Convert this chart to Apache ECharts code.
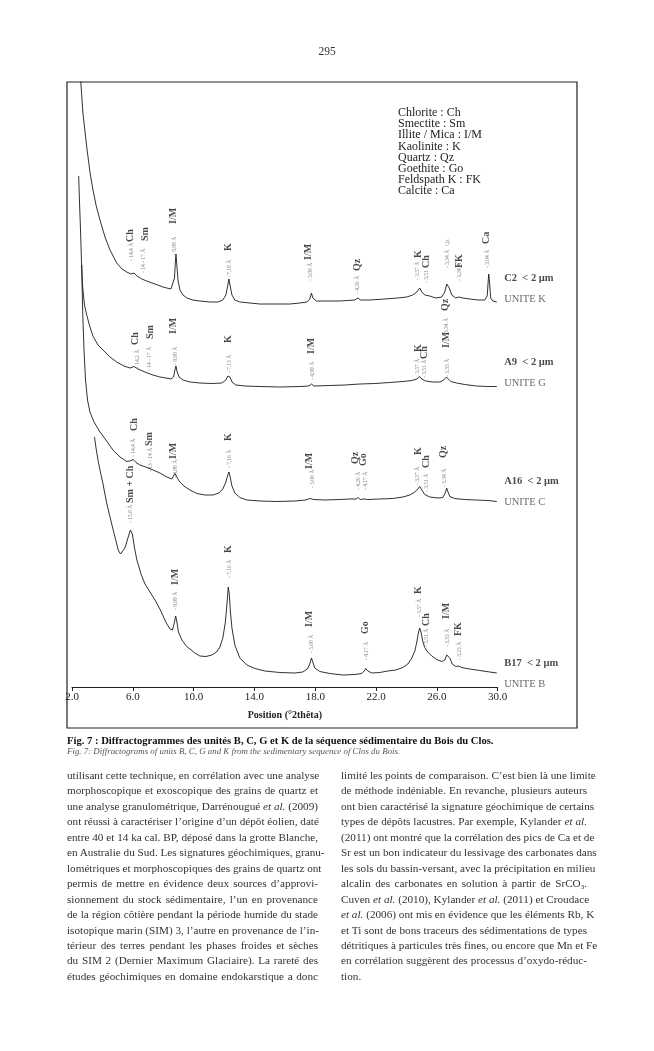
<!DOCTYPE html>
<html><head><meta charset="utf-8">
<script src="https://cdn.jsdelivr.net/npm/echarts@6/dist/echarts.min.js"></script>
<style>
html,body{margin:0;padding:0;background:#fff;}
#page{position:relative;width:654px;height:1051px;overflow:hidden;}
#chart{position:absolute;left:0;top:0;width:654px;height:1051px;}
.t{position:absolute;font-family:"Liberation Serif","DejaVu Serif",serif;color:#2a2a2a;line-height:1;}
.col{position:absolute;font-family:"Liberation Serif",serif;font-size:11.2px;line-height:15.46px;color:#333;}
.col div{text-align:justify;text-align-last:justify;white-space:nowrap;height:15.46px;}
.col div.last{text-align-last:left;}
.col sub{font-size:7px;line-height:0;vertical-align:-2px;}
</style></head>
<body><div id="page">
<div id="chart"></div>
<div class="t" style="left:0;width:654px;top:46px;text-align:center;font-size:11.5px;color:#333;">295</div>
<div class="t" style="left:67px;top:736px;font-size:10.6px;font-weight:bold;color:#111;white-space:nowrap;">Fig. 7 : Diffractogrammes des unités B, C, G et K de la séquence sédimentaire du Bois du Clos.</div>
<div class="t" style="left:67px;top:746.5px;font-size:8.9px;font-style:italic;color:#555;white-space:nowrap;">Fig. 7: Diffractograms of units B, C, G and K from the sedimentary sequence of Clos du Bois.</div>
<div class="col" style="left:67px;top:768px;width:251px;">
<div>utilisant cette technique, en corrélation avec une analyse</div>
<div>morphoscopique et exoscopique des grains de quartz et</div>
<div>une analyse granulométrique, Darrénougué <i>et al.</i> (2009)</div>
<div>ont réussi à caractériser l’origine d’un dépôt éolien, daté</div>
<div>entre 40 et 14 ka cal. BP, déposé dans la grotte Blanche,</div>
<div>en Australie du Sud. Les signatures géochimiques, granu-</div>
<div>lométriques et morphoscopiques des grains de quartz ont</div>
<div>permis de mettre en évidence deux sources d’approvi-</div>
<div>sionnement du stock sédimentaire, l’un en provenance</div>
<div>de la région côtière pendant la période humide du stade</div>
<div>isotopique marin (SIM) 3, l’autre en provenance de l’in-</div>
<div>térieur des terres pendant les phases froides et sèches</div>
<div>du SIM 2 (Dernier Maximum Glaciaire). La rareté des</div>
<div>études géochimiques en domaine endokarstique a donc</div>
</div>
<div class="col" style="left:341px;top:768px;width:246px;">
<div>limité les points de comparaison. C’est bien là une limite</div>
<div>de méthode indéniable. En revanche, plusieurs auteurs</div>
<div>ont bien caractérisé la signature géochimique de certains</div>
<div>types de dépôts lacustres. Par exemple, Kylander <i>et al.</i></div>
<div>(2011) ont montré que la corrélation des pics de Ca et de</div>
<div>Sr est un bon indicateur du lessivage des carbonates dans</div>
<div>les sols du bassin-versant, avec la précipitation en milieu</div>
<div>alcalin des carbonates en solution à partir de SrCO<sub>3</sub>.</div>
<div>Cuven <i>et al.</i> (2010), Kylander <i>et al.</i> (2011) et Croudace</div>
<div><i>et al.</i> (2006) ont mis en évidence que les éléments Rb, K</div>
<div>et Ti sont de bons traceurs des sédimentations de types</div>
<div>détritiques à particules très fines, ou encore que Mn et Fe</div>
<div>en corrélation suggèrent des processus d’oxydo-réduc-</div>
<div class="last">tion.</div>
</div>
</div>
<script>
// ---- data: [2theta (deg), intensity (a.u., stacked offset)] ----
const c2Scan = [
[2.53,617],[2.57,607],[2.72,574],[2.97,540],[3.18,515],[3.38,497],[3.58,482],[3.84,467],[4.17,450],[4.50,437],
[4.94,424],[5.29,418],[5.60,415],[5.88,413],[6.08,414],[6.27,411],[6.60,408],[6.91,406],[7.26,404],[7.65,402],
[7.98,400],[8.24,399],[8.51,398],[8.64,400],[8.74,409],[8.80,425],[8.84,433],[8.88,425],[8.97,407],[9.10,397],
[9.30,392],[9.56,389],[9.95,387],[10.41,386],[11.07,385],[11.60,385],[11.92,387],[12.12,392],[12.25,402],[12.32,408],
[12.39,402],[12.52,392],[12.71,387],[13.04,385],[13.70,384],[14.36,383],[15.34,383],[16.33,383],[16.99,384],[17.45,385],
[17.64,388],[17.75,394],[17.84,389],[18.08,386],[18.63,386],[19.62,386],[20.60,387],[20.80,389],[20.99,387],[21.59,387],
[22.57,388],[23.43,389],[24.02,390],[24.41,392],[24.68,395],[24.87,399],[25.01,395],[25.20,392],[25.33,392],[25.53,391],
[25.93,389],[26.32,390],[26.52,395],[26.65,403],[26.71,404],[26.81,399],[26.98,392],[27.24,389],[27.43,390],[27.53,391],
[27.70,389],[28.16,388],[28.69,387],[29.15,387],[29.31,391],[29.38,407],[29.41,413],[29.46,405],[29.54,389],[29.68,386],
[29.94,385]
];
const a9Scan = [
[2.44,511],[2.49,487],[2.56,457],[2.62,427],[2.69,402],[2.82,382],[2.97,372],[3.18,360],[3.38,351],[3.71,342],
[4.04,337],[4.50,330],[4.94,325],[5.42,321],[5.81,319],[6.08,320.5],[6.34,318],[6.80,315],[7.32,312],[7.78,310],
[8.18,309],[8.51,308],[8.68,310],[8.77,317],[8.84,321],[8.90,316],[9.04,310],[9.30,307],[9.76,305],[10.41,304],
[11.20,303.5],[11.86,304],[12.12,307],[12.25,311],[12.32,313],[12.39,310],[12.52,305],[12.78,302],[13.37,301],[14.36,300.5],
[15.67,300],[16.99,300.5],[17.58,301],[17.75,303],[17.91,301],[18.96,301.5],[19.94,302],[20.93,303],[21.92,303.5],[22.90,304.5],
[23.76,305.5],[24.35,306.5],[24.68,308],[24.87,310.5],[25.01,308],[25.27,306],[25.73,305],[26.19,305],[26.45,307],[26.63,310],
[26.71,309],[26.91,305.5],[27.30,304],[27.83,302.5],[28.60,301],[29.35,300.5],[29.94,300.5]
];
const a16Scan = [
[2.64,422],[2.67,397],[2.72,367],[2.79,337],[2.89,307],[3.02,287],[3.18,275],[3.45,265],[3.84,255],[4.28,246],
[4.69,237],[5.16,230],[5.60,225.5],[5.81,226],[6.03,227.5],[6.21,224.5],[6.47,222],[6.93,219.5],[7.34,217],[7.78,214],
[8.24,210],[8.57,208],[8.77,213.5],[8.87,212],[9.04,206],[9.36,201],[9.76,197],[10.22,193.5],[10.74,192],[11.27,192],
[11.66,194],[11.92,198],[12.12,205],[12.25,212],[12.32,215],[12.39,211],[12.52,201],[12.71,194],[13.04,189.5],[13.50,187],
[14.36,186],[15.47,185.5],[16.66,186],[17.38,187],[17.64,188.5],[17.75,189.5],[17.91,187.5],[18.63,187],[19.62,187.5],[20.27,188],
[20.67,188],[20.82,189.5],[20.96,187.5],[21.19,188],[21.32,189],[21.45,187.5],[22.24,188],[23.10,188.5],[23.76,190],[24.22,192],
[24.55,195],[24.74,198],[24.87,200.5],[25.01,197],[25.20,192.5],[25.53,190],[26.06,189],[26.39,189.5],[26.55,194],[26.64,199],
[26.71,196],[26.85,190.5],[27.17,188.5],[27.83,187.5],[28.60,187],[29.35,186.5],[29.94,185.5]
];
const b17Scan = [
[3.48,250],[3.58,239],[3.71,227],[3.84,217],[4.04,203],[4.28,184],[4.50,170],[4.71,157],[4.89,146],[5.04,137],
[5.19,133],[5.32,135],[5.48,139],[5.68,149],[5.84,157],[5.97,153],[6.11,139],[6.27,127],[6.54,113],[6.80,103],
[7.13,95],[7.46,87],[7.78,78],[8.05,69],[8.24,63],[8.45,58],[8.61,57],[8.74,65],[8.82,71],[8.90,65],
[9.00,55],[9.23,47],[9.54,40.5],[9.76,38],[10.08,34],[10.41,31],[10.81,30.5],[11.20,32],[11.51,35],[11.73,40],
[11.92,49],[12.09,65],[12.19,83],[12.28,100],[12.35,92],[12.42,75],[12.52,59],[12.71,42],[13.04,29],[13.50,22],
[14.03,18.5],[14.69,16],[15.67,14.5],[16.66,14],[17.18,15],[17.48,18],[17.64,23],[17.75,29],[17.84,25],[17.97,19],
[18.30,15.5],[18.96,13.5],[19.81,12],[20.60,12.5],[21.06,13.5],[21.22,16],[21.32,18.5],[21.45,16],[21.72,14],[22.24,14.5],
[22.77,16],[23.30,17],[23.76,19.5],[24.09,23],[24.35,29],[24.55,36],[24.68,45],[24.78,54],[24.87,59],[24.97,54],
[25.07,46],[25.20,39.5],[25.40,35],[25.66,31],[25.99,27.5],[26.32,25.5],[26.52,27],[26.65,32],[26.73,34],[26.85,29],
[27.01,23],[27.24,20.5],[27.40,21],[27.50,22],[27.63,19.5],[28.16,18],[28.82,16.5],[29.48,15],[29.94,14]
];
// mineral peak labels [2theta, label base, text]
const mineralLabels = [
[5.81,445,'Ch'],[6.86,446,'Sm'],[8.66,463,'I/M'],[12.27,436,'K'],[17.58,427,'I/M'],[20.78,416,'Qz'],
[24.76,429,'K'],[25.31,419,'Ch'],[27.50,419,'FK'],[29.26,443,'Ca'],[26.58,376,'Qz'],
[6.14,342,'Ch'],[7.13,348,'Sm'],[8.66,353,'I/M'],[12.32,344,'K'],[17.75,333,'I/M'],[24.76,335,'K'],[25.20,328,'Ch'],[26.63,339,'I/M'],
[6.08,256,'Ch'],[7.08,241,'Sm'],[8.66,228,'I/M'],[12.27,246,'K'],[17.64,218,'I/M'],[20.67,223,'Qz'],[21.15,221,'Go'],
[24.76,232,'K'],[25.31,219,'Ch'],[26.45,229,'Qz'],
[5.86,184,'Sm + Ch'],[8.79,102,'I/M'],[12.32,134,'K'],[17.64,60,'I/M'],[21.32,53,'Go'],[24.76,93,'K'],[25.31,61,'Ch'],
[26.63,68,'I/M'],[27.39,51,'FK']
];
// d-spacing labels [2theta, label base, text]
const spacingLabels = [
[5.94,426,'- 14,4 Å'],[6.69,414,'- 14 - 17 Å'],[8.77,432,'- 9,99 Å'],[12.34,409,'- 7,18 Å'],[17.71,406,'- 5,00 Å'],
[20.80,393,'- 4,26 Å'],[24.74,407,'- 3,57 Å'],[25.33,404,'- 3,51 Å'],[26.71,419,'- 3,34 Å   Qz'],[27.50,406,'- 3,24 Å'],[29.35,419,'- 3,04 Å'],
[6.29,319,'- 14,2 Å'],[7.13,316,'- 14 - 17 Å'],[8.82,322,'- 9,99 Å'],[12.39,314,'- 7,13 Å'],[17.79,307,'- 4,99 Å'],
[24.76,310,'- 3,57 Å'],[25.20,309,'- 3,51 Å'],[26.73,310,'- 3,33 Å'],[26.65,354,'3,34 Å'],
[6.08,230,'- 14,4 Å'],[7.17,215,'- 13 - 14 Å'],[8.82,209,'- 9,98 Å'],[12.34,219,'- 7,16 Å'],[17.79,199,'- 5,00 Å'],
[20.86,197,'- 4,26 Å'],[21.30,197,'- 4,17 Å'],[24.76,202,'- 3,57 Å'],[25.31,195,'- 3,51 Å'],[26.52,200,'- 3,34 Å'],
[5.86,164,'- 15,0 Å'],[8.82,77,'- 9,99 Å'],[12.34,109,'- 7,16 Å'],[17.75,34,'- 5,00 Å'],[21.37,27,'- 4,17 Å'],
[24.83,70,'- 3,57 Å'],[25.31,40,'- 3,51 Å'],[26.73,40,'- 3,33 Å'],[27.46,27,'- 3,23 Å']
];
// sample labels [2theta, label centre, sample, unit]
const sampleLabels = [
[30,398,'C2','UNITE K'],[30,314,'A9','UNITE G'],[30,195,'A16','UNITE C'],[30,13,'B17','UNITE B']
];
const legendLines = ['Chlorite : Ch','Smectite : Sm','Illite / Mica : I/M','Kaolinite : K','Quartz : Qz','Goethite : Go','Feldspath K : FK','Calcite : Ca'];
const xAxisName = 'Position (°2thêta)';

const serif = '"Liberation Serif", "DejaVu Serif", serif';
const chart = echarts.init(document.getElementById('chart'), null, {renderer:'canvas'});
function scan(name, data){
  return {name, type:'line', data, symbol:'none', showSymbol:false, smooth:false, clip:true,
    lineStyle:{color:'#1a1a1a', width:0.9}, silent:true, animation:false, z:3};
}
chart.setOption({
  animation:false,
  backgroundColor:'transparent',
  grid:{left:72, right:156.3, top:82, bottom:364, containLabel:false},
  xAxis:{type:'value', min:2, max:30, interval:4,
    name:xAxisName, nameLocation:'middle', nameGap:23,
    nameTextStyle:{fontFamily:serif, fontWeight:'bold', fontSize:10, color:'#222'},
    axisLine:{show:true, lineStyle:{color:'#222', width:1}},
    axisTick:{show:true, length:4, lineStyle:{color:'#222'}},
    axisLabel:{fontFamily:serif, fontSize:11, color:'#222', margin:5, formatter:v=>v.toFixed(1)},
    splitLine:{show:false}},
  yAxis:{type:'value', min:0, max:605, show:false},
  series:[
    scan('C2', c2Scan), scan('A9', a9Scan), scan('A16', a16Scan), scan('B17', b17Scan),
    {type:'scatter', data:mineralLabels, symbolSize:1, itemStyle:{color:'rgba(0,0,0,0)'}, silent:true, clip:false, z:5,
      label:{show:true, position:'inside', rotate:90, align:'left', verticalAlign:'middle',
        fontFamily:serif, fontWeight:'bold', fontSize:10, color:'#1a1a1a', formatter:p=>p.data[2]}},
    {type:'scatter', data:spacingLabels, symbolSize:1, itemStyle:{color:'rgba(0,0,0,0)'}, silent:true, clip:false, z:5,
      label:{show:true, position:'inside', rotate:90, align:'left', verticalAlign:'middle',
        fontFamily:serif, fontSize:5.5, color:'#666', formatter:p=>p.data[2]}},
    {type:'scatter', data:sampleLabels, symbolSize:1, itemStyle:{color:'rgba(0,0,0,0)'}, silent:true, clip:false, z:5,
      label:{show:true, position:'right', distance:6, align:'left', verticalAlign:'middle',
        formatter:p=>'{b|'+p.data[2]+'  < 2 µm}\n{n|'+p.data[3]+'}',
        rich:{b:{fontFamily:serif, fontWeight:'bold', fontSize:10.5, color:'#1a1a1a', lineHeight:21},
              n:{fontFamily:serif, fontSize:10.5, color:'#444', lineHeight:21}}}}
  ],
  graphic:[
    {type:'rect', shape:{x:67, y:82, width:510, height:646}, style:{fill:'none', stroke:'#222', lineWidth:1.2}, z:10, silent:true},
    {type:'text', x:398, y:107.5, style:{text:legendLines.join('\n'), font:'12px '+serif, lineHeight:11.1, fill:'#222'}, z:10, silent:true}
  ]
});
</script>
</body></html>
